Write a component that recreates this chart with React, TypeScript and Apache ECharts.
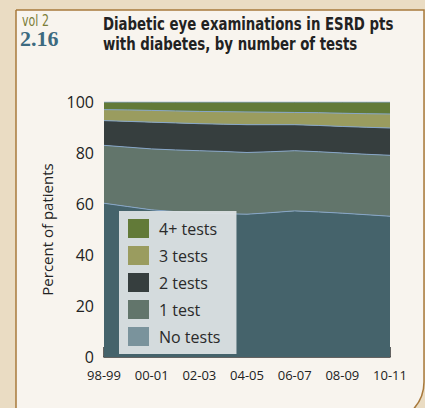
import React, { useEffect, useRef } from "react";
import * as echarts from "echarts";

const years = ["98-99", "99-00", "00-01", "01-02", "02-03", "03-04", "04-05", "05-06", "06-07", "07-08", "08-09", "09-10", "10-11"];
const noTests = [60.3, 59.0, 57.7, 57.0, 56.4, 56.2, 56.0, 56.6, 57.3, 56.9, 56.4, 55.8, 55.2];
const oneTest = [22.7, 23.3, 23.9, 24.2, 24.5, 24.4, 24.2, 23.9, 23.6, 23.6, 23.6, 23.7, 23.9];
const twoTests = [9.7, 10.1, 10.5, 10.6, 10.6, 10.7, 10.9, 10.6, 10.2, 10.3, 10.4, 10.6, 10.7];
const threeTests = [4.3, 4.5, 4.6, 4.7, 4.8, 4.9, 5.0, 4.9, 4.8, 5.0, 5.2, 5.3, 5.5];
const fourPlus = [3.0, 3.1, 3.3, 3.5, 3.7, 3.8, 3.9, 4.0, 4.1, 4.2, 4.4, 4.6, 4.7];

const seriesNames = ["No tests", "1 test", "2 tests", "3 tests", "4+ tests"];
const seriesData = [noTests, oneTest, twoTests, threeTests, fourPlus];
const areaColors = ["#45636b", "#62756b", "#363e3e", "#9a9c5f", "#627a38"];
const legendColors = ["#7a939c", "#62756b", "#363e3e", "#9a9c5f", "#627a38"];

export default function App() {
  const ref = useRef<HTMLDivElement>(null);
  useEffect(() => {
    if (!ref.current) return;
    const chart = echarts.init(ref.current, undefined, { renderer: "svg" });
    const font = "'Open Sans', 'Noto Sans', sans-serif";
    const cond = "'DejaVu Sans Condensed', 'DejaVu Sans', sans-serif";
    chart.setOption({
      animation: false,
      backgroundColor: "#eadcc3",
      graphic: [
        {
          type: "rect",
          z: -10,
          silent: true,
          shape: { x: 16, y: 10, width: 408, height: 412, r: [0, 0, 40, 0] },
          style: { fill: "#f8f4ee", stroke: "#a8793c", lineWidth: 1.5 },
        },
        {
          type: "text",
          x: 22,
          y: 13,
          scaleX: 0.82,
          style: { text: "vol 2", fill: "#7b7d38", verticalAlign: "top", font: `15px ${cond}` },
        },
        {
          type: "text",
          x: 20,
          y: 27,
          style: { text: "2.16", fill: "#3d6a80", verticalAlign: "top", font: "bold 22px 'Liberation Serif', serif" },
        },
        {
          type: "text",
          x: 103,
          y: 14,
          scaleX: 0.87,
          style: {
            text: "Diabetic eye examinations in ESRD pts\nwith diabetes, by number of tests",
            fill: "#222222",
            verticalAlign: "top",
            lineHeight: 20,
            font: `bold 17px ${cond}`,
          },
        },
      ],
      grid: { left: 104, right: 35, top: 102, bottom: 51, containLabel: false },
      legend: {
        orient: "vertical",
        left: 119,
        top: 211,
        icon: "rect",
        itemWidth: 21,
        itemHeight: 19,
        itemGap: 8,
        padding: [8, 16, 8, 9],
        backgroundColor: "rgba(220,225,228,0.95)",
        textStyle: { fontFamily: font, fontSize: 16, color: "#2a2a2a", padding: [0, 0, 0, 5] },
        data: [4, 3, 2, 1, 0].map((i) => ({ name: seriesNames[i], itemStyle: { color: legendColors[i] } })),
      },
      xAxis: {
        type: "category",
        data: years,
        boundaryGap: false,
        axisLine: { lineStyle: { color: "#333333", width: 1.5 } },
        axisTick: { inside: true, length: 10, interval: 1, lineStyle: { color: "#333333", width: 1.5 } },
        axisLabel: { interval: 1, fontFamily: font, fontSize: 13, color: "#222222", margin: 11 },
      },
      yAxis: {
        type: "value",
        min: 0,
        max: 100,
        interval: 20,
        name: "Percent of patients",
        nameLocation: "middle",
        nameGap: 50,
        nameTextStyle: { fontFamily: font, fontSize: 15, color: "#222222" },
        axisLine: { show: false },
        axisTick: { show: false },
        splitLine: { show: false },
        axisLabel: { fontFamily: font, fontSize: 16, color: "#222222", margin: 10 },
      },
      series: seriesNames.map((name, i) => ({
        name,
        type: "line",
        stack: "total",
        data: seriesData[i],
        symbol: "none",
        lineStyle: { color: "#86a6c8", width: 1 },
        itemStyle: { color: areaColors[i] },
        areaStyle: { color: areaColors[i], opacity: 1 },
        z: 2,
      })),
    });
    return () => chart.dispose();
  }, []);
  return <div ref={ref} style={{ position: "fixed", left: 0, top: 0, width: 425, height: 408 }} />;
}
